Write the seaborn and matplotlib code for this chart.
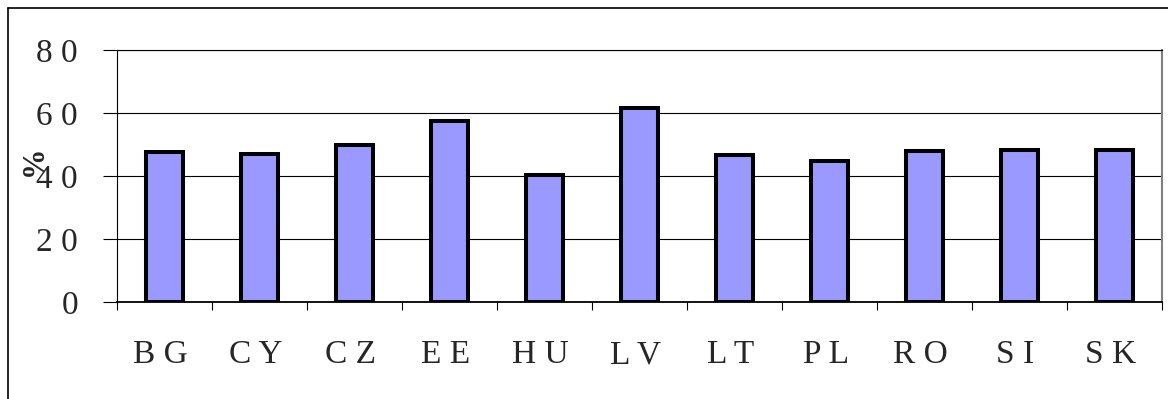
import numpy as np
import pandas as pd
import matplotlib
matplotlib.use("Agg")
import matplotlib.pyplot as plt
from matplotlib.lines import Line2D
import seaborn as sns

# Share of respondents (%) by country
countries = ["BG", "CY", "CZ", "EE", "HU", "LV", "LT", "PL", "RO", "SI", "SK"]
values = [47.6, 46.9, 49.9, 57.5, 40.3, 61.6, 46.8, 44.8, 47.8, 48.3, 48.3]
y_ticks = [0, 20, 40, 60, 80]
y_tick_labels = ["0", "2 0", "4 0", "6 0", "8 0"]
# letter-spaced category labels (each letter followed by a space)
x_tick_labels = ["".join(ch + " " for ch in c) for c in countries]

sns.set_style("white")
plt.rcParams["font.family"] = ["Liberation Serif", "DejaVu Serif"]

df = pd.DataFrame({"country": countries, "value": values})

fig = plt.figure(figsize=(11.68, 3.99), dpi=100)
W, H = 1168, 399
ax = fig.add_axes([117 / W, 1 - 302 / H, (1162 - 117) / W, (302 - 50) / H])

sns.barplot(data=df, x="country", y="value", ax=ax, color="#9999FF",
            saturation=1, width=0.38, edgecolor="black", linewidth=2.9,
            zorder=3)

ax.set_xlim(-0.5, len(countries) - 0.5)
ax.set_ylim(0, 80)

# horizontal gridlines
ax.set_yticks(y_ticks)
ax.set_yticklabels(y_tick_labels, fontsize=24)
ax.yaxis.grid(True, color="black", linewidth=0.8, zorder=0)
ax.xaxis.grid(False)
ax.tick_params(axis="y", which="major", direction="out", length=10,
               width=0.8, color="black", pad=18, left=True)

# category boundary ticks, labels centred in each category
ax.set_xticks(np.arange(-0.5, len(countries), 1.0))
ax.set_xticklabels([])
ax.tick_params(axis="x", which="major", direction="out", length=6,
               width=0.8, color="black", bottom=True)
ax.set_xticks(np.arange(len(countries)), minor=True)
ax.set_xticklabels(x_tick_labels, minor=True, fontsize=24)
ax.tick_params(axis="x", which="minor", length=0, pad=27)

ax.set_xlabel("")
ax.set_ylabel("")

for side in ["left", "bottom", "top"]:
    ax.spines[side].set_visible(True)
    ax.spines[side].set_color("black")
ax.spines["left"].set_linewidth(0.8)
ax.spines["top"].set_linewidth(0.8)
ax.spines["bottom"].set_linewidth(1.3)
ax.spines["right"].set_visible(True)
ax.spines["right"].set_color("#808080")
ax.spines["right"].set_linewidth(1.5)

fig.text(34 / W, 1 - 161 / H, "%", rotation=90, ha="center", va="center",
         fontsize=22, fontweight="bold")

# outer chart frame
fig.add_artist(Line2D([8 / W, 8 / W], [-0.1, 1 - 8 / H], color="black",
                      linewidth=1.2, transform=fig.transFigure))
fig.add_artist(Line2D([8 / W, 1.1], [1 - 8 / H, 1 - 8 / H], color="black",
                      linewidth=1.2, transform=fig.transFigure))

fig.savefig("out.png", dpi=100)
